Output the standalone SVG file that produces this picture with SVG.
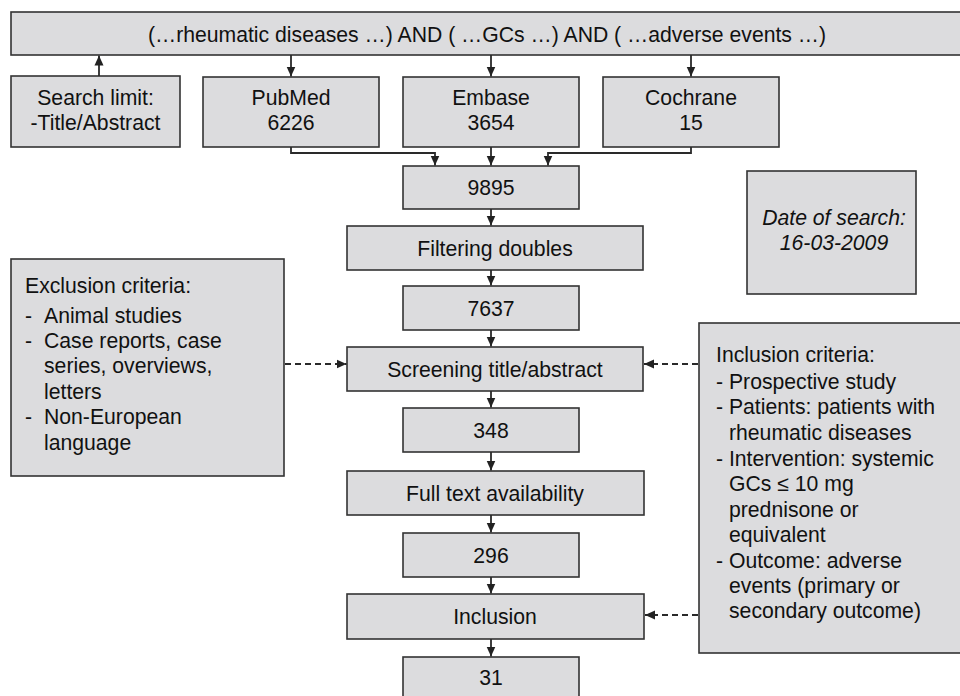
<svg xmlns="http://www.w3.org/2000/svg" width="960" height="696" viewBox="0 0 960 696">
<defs>
<style>
.box{fill:#dcdcde;stroke:#333;stroke-width:1.6}
text{font-family:"Liberation Sans",Arial,sans-serif;font-size:21.2px;fill:#111}
.c{text-anchor:middle}
.it{font-style:italic}
.ln{fill:none;stroke:#2a2a2a;stroke-width:1.8}
.dash{fill:none;stroke:#2a2a2a;stroke-width:2.2;stroke-dasharray:6,4}
</style>
<marker id="ah" viewBox="0 0 10 10" refX="10" refY="5" markerWidth="10" markerHeight="10" markerUnits="userSpaceOnUse" orient="auto">
<path d="M0,0.5 L10,5 L0,9.5 Z" fill="#222"/>
</marker>
<marker id="ahd" viewBox="0 0 10 10" refX="10" refY="5" markerWidth="10" markerHeight="10" markerUnits="userSpaceOnUse" orient="auto">
<path d="M0,0.5 L10,5 L0,9.5 Z" fill="#222"/>
</marker>
</defs>
<rect width="960" height="696" fill="#fff"/>

<g id="query"><rect class="box" x="11" y="12" width="960" height="43"/><text class="c" x="487" y="42">(…rheumatic diseases …) AND ( …GCs …) AND ( …adverse events …)</text></g>
<g id="searchlimit"><rect class="box" x="11" y="76" width="169" height="71"/><text class="c" x="95.5" y="105">Search limit:</text><text class="c" x="95.5" y="130">-Title/Abstract</text></g>
<g id="pubmed"><rect class="box" x="203" y="77" width="176" height="70"/><text class="c" x="291" y="105">PubMed</text><text class="c" x="291" y="130">6226</text></g>
<g id="embase"><rect class="box" x="403" y="77" width="176" height="70"/><text class="c" x="491" y="105">Embase</text><text class="c" x="491" y="130">3654</text></g>
<g id="cochrane"><rect class="box" x="603" y="77" width="176" height="70"/><text class="c" x="691" y="105">Cochrane</text><text class="c" x="691" y="130">15</text></g>
<g id="n9895"><rect class="box" x="403" y="166" width="176" height="43"/><text class="c" x="491" y="195">9895</text></g>
<g id="filtering"><rect class="box" x="347" y="226" width="296" height="44"/><text class="c" x="495" y="255.5">Filtering doubles</text></g>
<g id="n7637"><rect class="box" x="403" y="286" width="176" height="44"/><text class="c" x="491" y="315.5">7637</text></g>
<g id="screening"><rect class="box" x="347" y="347" width="296" height="44"/><text class="c" x="495" y="377">Screening title/abstract</text></g>
<g id="n348"><rect class="box" x="403" y="408" width="176" height="44"/><text class="c" x="491" y="437.5">348</text></g>
<g id="fulltext"><rect class="box" x="347" y="471" width="297" height="44"/><text class="c" x="495" y="500.5">Full text availability</text></g>
<g id="n296"><rect class="box" x="403" y="533" width="176" height="44"/><text class="c" x="491" y="562.5">296</text></g>
<g id="inclusion"><rect class="box" x="347" y="594" width="297" height="45"/><text class="c" x="495" y="624">Inclusion</text></g>
<g id="n31"><rect class="box" x="403" y="657" width="176" height="60"/><text class="c" x="491" y="685">31</text></g>
<g id="date"><rect class="box" x="747" y="171" width="169" height="123"/><text class="c it" x="834" y="225">Date of search:</text><text class="c it" x="834" y="250">16-03-2009</text></g>
<g id="exclusion"><rect class="box" x="11" y="259" width="273" height="217"/>
<text x="25" y="293">Exclusion criteria:</text>
<text x="25" y="323">-</text><text x="44" y="323">Animal studies</text>
<text x="25" y="348">-</text><text x="44" y="348">Case reports, case</text>
<text x="44" y="373">series, overviews,</text>
<text x="44" y="399">letters</text>
<text x="25" y="424">-</text><text x="44" y="424">Non-European</text>
<text x="44" y="450">language</text>
</g>
<g id="inclcriteria"><rect class="box" x="699" y="323" width="280" height="330"/>
<text x="716" y="362">Inclusion criteria:</text>
<text x="716" y="389">- Prospective study</text>
<text x="716" y="414">- Patients: patients with</text>
<text x="729" y="440">rheumatic diseases</text>
<text x="716" y="466">- Intervention: systemic</text>
<text x="729" y="491">GCs ≤ 10 mg</text>
<text x="729" y="517">prednisone or</text>
<text x="729" y="542">equivalent</text>
<text x="716" y="568">- Outcome: adverse</text>
<text x="729" y="593">events (primary or</text>
<text x="729" y="618">secondary outcome)</text>
</g>

<g id="connectors">
<line class="ln" x1="99" y1="76" x2="99" y2="55.5" marker-end="url(#ah)"/>
<line class="ln" x1="291" y1="55" x2="291" y2="76.5" marker-end="url(#ah)"/>
<line class="ln" x1="491" y1="55" x2="491" y2="76.5" marker-end="url(#ah)"/>
<line class="ln" x1="691" y1="55" x2="691" y2="76.5" marker-end="url(#ah)"/>
<polyline class="ln" points="291,147 291,153 435,153 435,165.5" marker-end="url(#ah)"/>
<line class="ln" x1="491" y1="147" x2="491" y2="165.5" marker-end="url(#ah)"/>
<polyline class="ln" points="691,147 691,153 548,153 548,165.5" marker-end="url(#ah)"/>
<line class="ln" x1="491" y1="209" x2="491" y2="225.5" marker-end="url(#ah)"/>
<line class="ln" x1="491" y1="270" x2="491" y2="285.5" marker-end="url(#ah)"/>
<line class="ln" x1="491" y1="330" x2="491" y2="346.5" marker-end="url(#ah)"/>
<line class="ln" x1="491" y1="391" x2="491" y2="407.5" marker-end="url(#ah)"/>
<line class="ln" x1="491" y1="452" x2="491" y2="470.5" marker-end="url(#ah)"/>
<line class="ln" x1="491" y1="515" x2="491" y2="532.5" marker-end="url(#ah)"/>
<line class="ln" x1="491" y1="577" x2="491" y2="593.5" marker-end="url(#ah)"/>
<line class="ln" x1="491" y1="639" x2="491" y2="656.5" marker-end="url(#ah)"/>
<line class="dash" x1="285" y1="364" x2="346.5" y2="364" marker-end="url(#ahd)"/>
<line class="dash" x1="698" y1="364" x2="644" y2="364" marker-end="url(#ahd)"/>
<line class="dash" x1="698" y1="615" x2="645" y2="615" marker-end="url(#ahd)"/>
</g>
</svg>
